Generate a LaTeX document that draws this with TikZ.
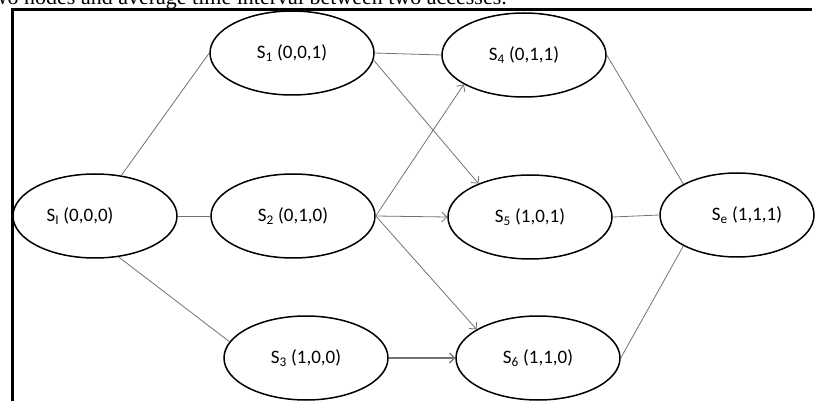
\documentclass[tikz,border=0pt]{standalone}
\usepackage{fontspec}
\setmainfont{Carlito}
\newfontfamily\capfont{Liberation Serif}
\usetikzlibrary{shapes.geometric,arrows.meta}
\tikzset{
  st/.style={draw=black, line width=1.5pt, ellipse, inner sep=0pt,
             minimum width=164pt, minimum height=84pt,
             font=\fontsize{19}{21}\selectfont},
  conn/.style={draw=black!55, line width=0.8pt},
  arr/.style={conn, -{Straight Barb[length=5pt,width=10pt]}},
  frame/.style={draw=black, line width=3pt}
}
\begin{document}
\begin{tikzpicture}[x=1pt,y=-1pt]
\useasboundingbox (0,0) rectangle (815,401);
\node[anchor=base east, font=\capfont\fontsize{22}{24}\selectfont, inner sep=0pt] (cap) at (507,4.5) {two nodes and average time interval between two accesses.};
\coordinate (fa) at (12,401);
\coordinate (fb) at (12,10);
\coordinate (fc) at (812,10);
\draw[frame] (fa) -- (fb) -- (fc);

\node[st] (SI) at (95,216) {\hspace*{-30pt}S\textsubscript{I} (0,0,0)};
\node[st] (S1) at (292,53) {S\textsubscript{1} (0,0,1)};
\node[st] (S2) at (293,216) {S\textsubscript{2} (0,1,0)};
\node[st] (S3) at (306,358) {S\textsubscript{3} (1,0,0)};
\node[st] (S4) at (524,55) {S\textsubscript{4} (0,1,1)};
\node[st] (S5) at (530,217) {S\textsubscript{5} (1,0,1)};
\node[st] (S6) at (538,358) {S\textsubscript{6} (1,1,0)};
\node[st, minimum width=154pt] (Se) at (737,215) {\hspace*{20pt}S\textsubscript{e} (1,1,1)};

\draw[conn] (SI.57) -- (S1.west);
\draw[conn] (SI.east) -- (S2.west);
\draw[conn] (SI.-60) -- (S3.168);
\draw[conn] (S1.east) -- (S4.west);
\draw[arr] (S1.-5) -- (S5.147);
\draw[arr] (S2.east) -- (S4.206);
\draw[arr] (S2.east) -- (S5.west);
\draw[arr] (S2.east) -- (S6.155);
\draw[arr, line width=1.1pt] (S3.east) -- (S6.west);
\draw[conn] (S4.east) -- (Se.150);
\draw[conn] (S5.east) -- (Se.west);
\draw[conn] (S6.east) -- (Se.-150);
\end{tikzpicture}
\end{document}
